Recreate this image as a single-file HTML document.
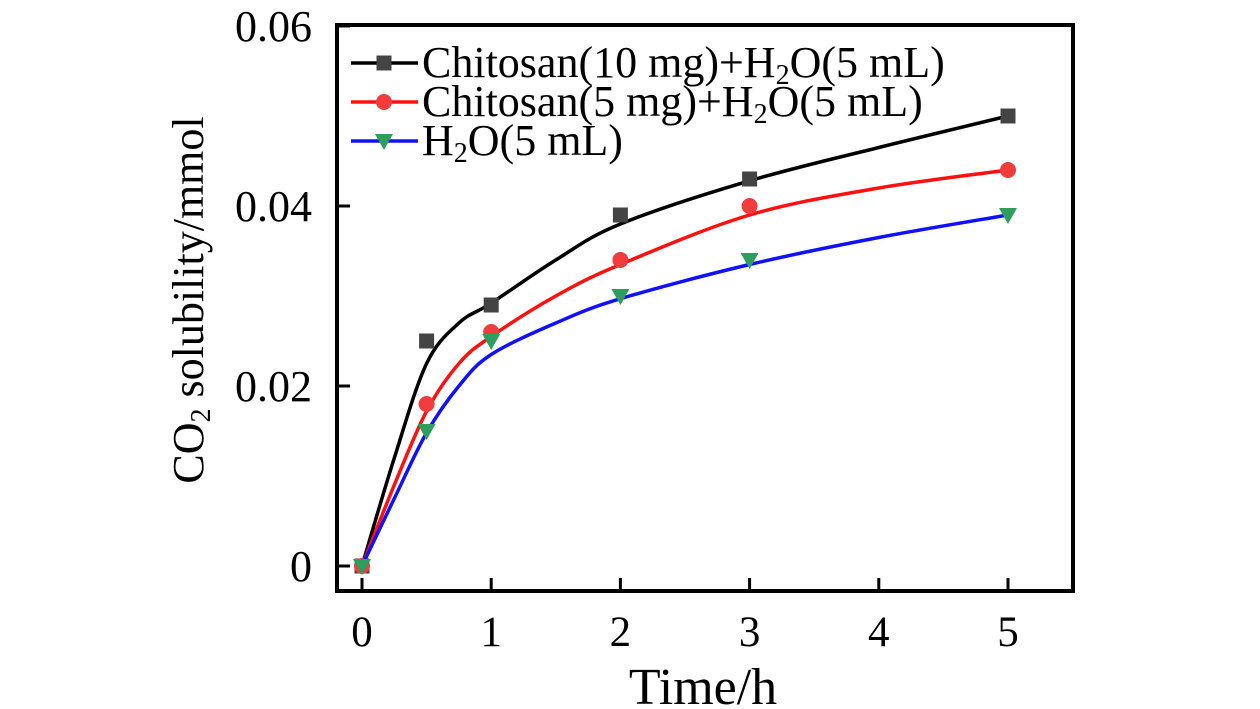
<!DOCTYPE html>
<html><head><meta charset="utf-8"><style>
body{margin:0;background:#fff;}
svg{display:block;font-family:"Liberation Serif",serif;}
</style></head><body>
<svg id="chart" width="1260" height="709" viewBox="0 0 1260 709">
<g id="plot"></g>
</svg>
<script>
const xTicks=[0,1,2,3,4,5];
const yTicks=[0,0.02,0.04,0.06];
const yTickLabels=["0","0.02","0.04","0.06"];
const times=[0,0.5,1,2,3,5];
const chit10=[0,0.025,0.029,0.039,0.043,0.050];
const chit5=[0,0.018,0.026,0.034,0.040,0.044];
const water=[0,0.015,0.025,0.030,0.034,0.039];
const fitX=[0,0.25,0.5,0.75,1,1.5,2,3,4,5];
const fit10=[0,0.012,0.0225,0.027,0.0292,0.034,0.038,0.0428,0.0465,0.050];
const fit5=[0,0.009,0.0172,0.0225,0.0255,0.030,0.0335,0.039,0.042,0.044];
const fitW=[0,0.0075,0.0148,0.0200,0.0235,0.027,0.0297,0.0335,0.0365,0.039];

const NS="http://www.w3.org/2000/svg";
const g=document.getElementById('plot');
const X=v=>362+v*129.2;
const Y=v=>566-v*9000;
function mk(t,a,p){const e=document.createElementNS(NS,t);for(const k in a)e.setAttribute(k,a[k]);(p||g).appendChild(e);return e;}

const frame=mk('rect',{x:337,y:25,width:736,height:566,fill:'none',stroke:'#000','stroke-width':4});



xTicks.forEach(t=>{
  const l=mk('line',{x1:X(t),x2:X(t),y1:591,y2:578,stroke:'#000','stroke-width':3});
  
  
  const tx=mk('text',{x:X(t),y:646,'text-anchor':'middle','font-size':43});
  tx.textContent=t;
  
  
});
yTicks.forEach((t,i)=>{
  const l=mk('line',{x1:337,x2:350,y1:Y(t),y2:Y(t),stroke:'#000','stroke-width':3});
  
  
  const tx=mk('text',{x:312,y:Y(t)+15,'text-anchor':'end','font-size':44});
  tx.textContent=yTickLabels[i];
  
  
});

const xt=mk('text',{x:703,y:704,'text-anchor':'middle','font-size':52});
xt.textContent='Time/h';


const yt=mk('text',{x:0,y:0,'text-anchor':'middle','font-size':44,transform:'translate(203,300) rotate(-90)'});
yt.innerHTML='CO<tspan font-size="28" dy="7">2</tspan><tspan dy="-7"> solubility/mmol</tspan>';



function curve(xs,ys){
  const p=xs.map((x,i)=>[X(x),Y(ys[i])]);
  let d='M'+p[0][0]+','+p[0][1];
  for(let i=0;i<p.length-1;i++){
    const p0=p[Math.max(0,i-1)],p1=p[i],p2=p[i+1],p3=p[Math.min(p.length-1,i+2)];
    const c1=[p1[0]+(p2[0]-p0[0])/6,p1[1]+(p2[1]-p0[1])/6];
    const c2=[p2[0]-(p3[0]-p1[0])/6,p2[1]-(p3[1]-p1[1])/6];
    d+=` C${c1[0]},${c1[1]} ${c2[0]},${c2[1]} ${p2[0]},${p2[1]}`;
  }
  return d;
}
function marker(type,cx,cy,parent){
  let e;
  if(type==='sq') e=mk('rect',{x:cx-7.5,y:cy-7.5,width:15,height:15,fill:'#444'},parent);
  else if(type==='ci') e=mk('circle',{cx:cx,cy:cy,r:8,fill:'#f03c3c'},parent);
  else e=mk('polygon',{points:`${cx-9},${cy-7} ${cx+9},${cy-7} ${cx},${cy+9}`,fill:'#2e9e5e'},parent);
  return e;
}
const series=[
  {name:'chitosan-10mg',fit:fit10,vals:chit10,color:'#000',m:'sq'},
  {name:'chitosan-5mg',fit:fit5,vals:chit5,color:'#ff1010',m:'ci'},
  {name:'water',fit:fitW,vals:water,color:'#1010ff',m:'tr'}
];
series.forEach(s=>{
  const sg=mk('g',{});
  
  
  const path=mk('path',{d:curve(fitX,s.fit),fill:'none',stroke:s.color,'stroke-width':3.5},sg);
  
  
  times.forEach((t,i)=>{
    const m=marker(s.m,X(t),Y(s.vals[i]),sg);
    
    
  });
});

const leg=mk('g',{});


const legLabels=['Chitosan(10 mg)+H<tspan font-size="28" dy="7">2</tspan><tspan dy="-7">O(5 mL)</tspan>','Chitosan(5 mg)+H<tspan font-size="28" dy="7">2</tspan><tspan dy="-7">O(5 mL)</tspan>','H<tspan font-size="28" dy="7">2</tspan><tspan dy="-7">O(5 mL)</tspan>'];
const legY=[63,102,141];
series.forEach((s,i)=>{
  const eg=mk('g',{},leg);
  
  
  mk('line',{x1:351,x2:418,y1:legY[i],y2:legY[i],stroke:s.color,'stroke-width':3.5},eg);
  marker(s.m,384,legY[i],eg);
  const t=mk('text',{x:422,y:legY[i]+14,'font-size':44},eg);
  t.innerHTML=legLabels[i];
});
</script>
</body></html>
